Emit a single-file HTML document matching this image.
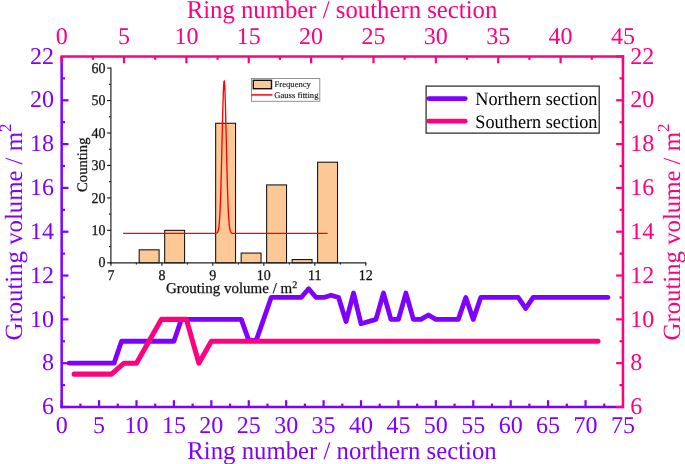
<!DOCTYPE html>
<html><head><meta charset="utf-8"><style>
html,body{margin:0;padding:0;background:#fff;width:685px;height:464px;overflow:hidden}
svg{display:block;will-change:transform}
text{font-family:"Liberation Serif",serif;text-rendering:geometricPrecision}
.tl{font-size:24px}
.tt{font-size:24.75px}
.it{font-size:14px;fill:#111;stroke:#111;stroke-width:0.25px}
.ititle{font-size:15px;fill:#111;stroke:#111;stroke-width:0.25px}
.ileg{font-size:8.6px;fill:#111;stroke:#111;stroke-width:0.12px}
.lg{font-size:18.25px;fill:#000}
</style></head><body>
<svg width="685" height="464" viewBox="0 0 685 464">
<rect x="139.19" y="249.82" width="19.90" height="12.98" fill="#FBC896" stroke="#111" stroke-width="1.05"/>
<rect x="164.68" y="230.35" width="19.90" height="32.45" fill="#FBC896" stroke="#111" stroke-width="1.05"/>
<rect x="215.66" y="123.27" width="19.90" height="139.53" fill="#FBC896" stroke="#111" stroke-width="1.05"/>
<rect x="241.15" y="253.06" width="19.90" height="9.74" fill="#FBC896" stroke="#111" stroke-width="1.05"/>
<rect x="266.64" y="184.92" width="19.90" height="77.88" fill="#FBC896" stroke="#111" stroke-width="1.05"/>
<rect x="292.13" y="259.56" width="19.90" height="3.25" fill="#FBC896" stroke="#111" stroke-width="1.05"/>
<rect x="317.62" y="162.21" width="19.90" height="100.59" fill="#FBC896" stroke="#111" stroke-width="1.05"/>
<polyline points="123.14,233.40 123.48,233.40 123.82,233.40 124.16,233.40 124.50,233.40 124.84,233.40 125.18,233.40 125.52,233.40 125.86,233.40 126.20,233.40 126.54,233.40 126.88,233.40 127.22,233.40 127.56,233.40 127.91,233.40 128.25,233.40 128.59,233.40 128.93,233.40 129.27,233.40 129.61,233.40 129.95,233.40 130.29,233.40 130.63,233.40 130.97,233.40 131.31,233.40 131.65,233.40 131.99,233.40 132.33,233.40 132.68,233.40 133.02,233.40 133.36,233.40 133.70,233.40 134.04,233.40 134.38,233.40 134.72,233.40 135.06,233.40 135.40,233.40 135.74,233.40 136.08,233.40 136.42,233.40 136.76,233.40 137.10,233.40 137.45,233.40 137.79,233.40 138.13,233.40 138.47,233.40 138.81,233.40 139.15,233.40 139.49,233.40 139.83,233.40 140.17,233.40 140.51,233.40 140.85,233.40 141.19,233.40 141.53,233.40 141.87,233.40 142.22,233.40 142.56,233.40 142.90,233.40 143.24,233.40 143.58,233.40 143.92,233.40 144.26,233.40 144.60,233.40 144.94,233.40 145.28,233.40 145.62,233.40 145.96,233.40 146.30,233.40 146.64,233.40 146.99,233.40 147.33,233.40 147.67,233.40 148.01,233.40 148.35,233.40 148.69,233.40 149.03,233.40 149.37,233.40 149.71,233.40 150.05,233.40 150.39,233.40 150.73,233.40 151.07,233.40 151.41,233.40 151.76,233.40 152.10,233.40 152.44,233.40 152.78,233.40 153.12,233.40 153.46,233.40 153.80,233.40 154.14,233.40 154.48,233.40 154.82,233.40 155.16,233.40 155.50,233.40 155.84,233.40 156.18,233.40 156.53,233.40 156.87,233.40 157.21,233.40 157.55,233.40 157.89,233.40 158.23,233.40 158.57,233.40 158.91,233.40 159.25,233.40 159.59,233.40 159.93,233.40 160.27,233.40 160.61,233.40 160.95,233.40 161.30,233.40 161.64,233.40 161.98,233.40 162.32,233.40 162.66,233.40 163.00,233.40 163.34,233.40 163.68,233.40 164.02,233.40 164.36,233.40 164.70,233.40 165.04,233.40 165.38,233.40 165.72,233.40 166.07,233.40 166.41,233.40 166.75,233.40 167.09,233.40 167.43,233.40 167.77,233.40 168.11,233.40 168.45,233.40 168.79,233.40 169.13,233.40 169.47,233.40 169.81,233.40 170.15,233.40 170.49,233.40 170.84,233.40 171.18,233.40 171.52,233.40 171.86,233.40 172.20,233.40 172.54,233.40 172.88,233.40 173.22,233.40 173.56,233.40 173.90,233.40 174.24,233.40 174.58,233.40 174.92,233.40 175.26,233.40 175.61,233.40 175.95,233.40 176.29,233.40 176.63,233.40 176.97,233.40 177.31,233.40 177.65,233.40 177.99,233.40 178.33,233.40 178.67,233.40 179.01,233.40 179.35,233.40 179.69,233.40 180.03,233.40 180.38,233.40 180.72,233.40 181.06,233.40 181.40,233.40 181.74,233.40 182.08,233.40 182.42,233.40 182.76,233.40 183.10,233.40 183.44,233.40 183.78,233.40 184.12,233.40 184.46,233.40 184.80,233.40 185.15,233.40 185.49,233.40 185.83,233.40 186.17,233.40 186.51,233.40 186.85,233.40 187.19,233.40 187.53,233.40 187.87,233.40 188.21,233.40 188.55,233.40 188.89,233.40 189.23,233.40 189.57,233.40 189.92,233.40 190.26,233.40 190.60,233.40 190.94,233.40 191.28,233.40 191.62,233.40 191.96,233.40 192.30,233.40 192.64,233.40 192.98,233.40 193.32,233.40 193.66,233.40 194.00,233.40 194.34,233.40 194.69,233.40 195.03,233.40 195.37,233.40 195.71,233.40 196.05,233.40 196.39,233.40 196.73,233.40 197.07,233.40 197.41,233.40 197.75,233.40 198.09,233.40 198.43,233.40 198.77,233.40 199.11,233.40 199.46,233.40 199.80,233.40 200.14,233.40 200.48,233.40 200.82,233.40 201.16,233.40 201.50,233.40 201.84,233.40 202.18,233.40 202.52,233.40 202.86,233.40 203.20,233.40 203.54,233.40 203.88,233.40 204.23,233.40 204.57,233.40 204.91,233.40 205.25,233.40 205.59,233.40 205.93,233.40 206.27,233.40 206.61,233.40 206.95,233.40 207.29,233.40 207.63,233.40 207.97,233.40 208.31,233.40 208.65,233.40 209.00,233.40 209.34,233.40 209.68,233.40 210.02,233.40 210.36,233.40 210.70,233.40 211.04,233.40 211.38,233.40 211.72,233.40 212.06,233.40 212.40,233.40 212.74,233.40 213.08,233.40 213.43,233.40 213.77,233.40 214.11,233.40 214.45,233.40 214.79,233.39 215.13,233.38 215.47,233.37 215.81,233.34 216.15,233.29 216.49,233.19 216.83,233.03 217.17,232.76 217.51,232.33 217.85,231.65 218.20,230.60 218.54,229.04 218.88,226.79 219.22,223.64 219.56,219.34 219.90,213.67 220.24,206.43 220.58,197.47 220.92,186.76 221.26,174.41 221.60,160.70 221.94,146.09 222.28,131.24 222.62,116.91 222.97,103.98 223.31,93.30 223.65,85.61 223.99,81.50 224.33,81.27 224.67,84.94 225.01,92.23 225.35,102.60 225.69,115.31 226.03,129.51 226.37,144.35 226.71,159.02 227.05,172.86 227.39,185.39 227.74,196.30 228.08,205.47 228.42,212.91 228.76,218.75 229.10,223.20 229.44,226.47 229.78,228.82 230.12,230.45 230.46,231.55 230.80,232.27 231.14,232.72 231.48,233.01 231.82,233.18 232.16,233.28 232.51,233.33 232.85,233.37 233.19,233.38 233.53,233.39 233.87,233.40 234.21,233.40 234.55,233.40 234.89,233.40 235.23,233.40 235.57,233.40 235.91,233.40 236.25,233.40 236.59,233.40 236.93,233.40 237.28,233.40 237.62,233.40 237.96,233.40 238.30,233.40 238.64,233.40 238.98,233.40 239.32,233.40 239.66,233.40 240.00,233.40 240.34,233.40 240.68,233.40 241.02,233.40 241.36,233.40 241.70,233.40 242.05,233.40 242.39,233.40 242.73,233.40 243.07,233.40 243.41,233.40 243.75,233.40 244.09,233.40 244.43,233.40 244.77,233.40 245.11,233.40 245.45,233.40 245.79,233.40 246.13,233.40 246.47,233.40 246.82,233.40 247.16,233.40 247.50,233.40 247.84,233.40 248.18,233.40 248.52,233.40 248.86,233.40 249.20,233.40 249.54,233.40 249.88,233.40 250.22,233.40 250.56,233.40 250.90,233.40 251.24,233.40 251.59,233.40 251.93,233.40 252.27,233.40 252.61,233.40 252.95,233.40 253.29,233.40 253.63,233.40 253.97,233.40 254.31,233.40 254.65,233.40 254.99,233.40 255.33,233.40 255.67,233.40 256.01,233.40 256.36,233.40 256.70,233.40 257.04,233.40 257.38,233.40 257.72,233.40 258.06,233.40 258.40,233.40 258.74,233.40 259.08,233.40 259.42,233.40 259.76,233.40 260.10,233.40 260.44,233.40 260.78,233.40 261.13,233.40 261.47,233.40 261.81,233.40 262.15,233.40 262.49,233.40 262.83,233.40 263.17,233.40 263.51,233.40 263.85,233.40 264.19,233.40 264.53,233.40 264.87,233.40 265.21,233.40 265.55,233.40 265.90,233.40 266.24,233.40 266.58,233.40 266.92,233.40 267.26,233.40 267.60,233.40 267.94,233.40 268.28,233.40 268.62,233.40 268.96,233.40 269.30,233.40 269.64,233.40 269.98,233.40 270.32,233.40 270.67,233.40 271.01,233.40 271.35,233.40 271.69,233.40 272.03,233.40 272.37,233.40 272.71,233.40 273.05,233.40 273.39,233.40 273.73,233.40 274.07,233.40 274.41,233.40 274.75,233.40 275.09,233.40 275.44,233.40 275.78,233.40 276.12,233.40 276.46,233.40 276.80,233.40 277.14,233.40 277.48,233.40 277.82,233.40 278.16,233.40 278.50,233.40 278.84,233.40 279.18,233.40 279.52,233.40 279.86,233.40 280.21,233.40 280.55,233.40 280.89,233.40 281.23,233.40 281.57,233.40 281.91,233.40 282.25,233.40 282.59,233.40 282.93,233.40 283.27,233.40 283.61,233.40 283.95,233.40 284.29,233.40 284.63,233.40 284.98,233.40 285.32,233.40 285.66,233.40 286.00,233.40 286.34,233.40 286.68,233.40 287.02,233.40 287.36,233.40 287.70,233.40 288.04,233.40 288.38,233.40 288.72,233.40 289.06,233.40 289.40,233.40 289.75,233.40 290.09,233.40 290.43,233.40 290.77,233.40 291.11,233.40 291.45,233.40 291.79,233.40 292.13,233.40 292.47,233.40 292.81,233.40 293.15,233.40 293.49,233.40 293.83,233.40 294.17,233.40 294.52,233.40 294.86,233.40 295.20,233.40 295.54,233.40 295.88,233.40 296.22,233.40 296.56,233.40 296.90,233.40 297.24,233.40 297.58,233.40 297.92,233.40 298.26,233.40 298.60,233.40 298.94,233.40 299.29,233.40 299.63,233.40 299.97,233.40 300.31,233.40 300.65,233.40 300.99,233.40 301.33,233.40 301.67,233.40 302.01,233.40 302.35,233.40 302.69,233.40 303.03,233.40 303.37,233.40 303.71,233.40 304.06,233.40 304.40,233.40 304.74,233.40 305.08,233.40 305.42,233.40 305.76,233.40 306.10,233.40 306.44,233.40 306.78,233.40 307.12,233.40 307.46,233.40 307.80,233.40 308.14,233.40 308.48,233.40 308.83,233.40 309.17,233.40 309.51,233.40 309.85,233.40 310.19,233.40 310.53,233.40 310.87,233.40 311.21,233.40 311.55,233.40 311.89,233.40 312.23,233.40 312.57,233.40 312.91,233.40 313.25,233.40 313.60,233.40 313.94,233.40 314.28,233.40 314.62,233.40 314.96,233.40 315.30,233.40 315.64,233.40 315.98,233.40 316.32,233.40 316.66,233.40 317.00,233.40 317.34,233.40 317.68,233.40 318.02,233.40 318.37,233.40 318.71,233.40 319.05,233.40 319.39,233.40 319.73,233.40 320.07,233.40 320.41,233.40 320.75,233.40 321.09,233.40 321.43,233.40 321.77,233.40 322.11,233.40 322.45,233.40 322.79,233.40 323.14,233.40 323.48,233.40 323.82,233.40 324.16,233.40 324.50,233.40 324.84,233.40 325.18,233.40 325.52,233.40 325.86,233.40 326.20,233.40 326.54,233.40 326.88,233.40 327.22,233.40 327.57,233.40" fill="none" stroke="#FF0000" stroke-width="1.35"/>
<line x1="110.90" y1="67.60" x2="110.90" y2="263.40" stroke="#222" stroke-width="1.2"/>
<line x1="110.30" y1="262.80" x2="366.40" y2="262.80" stroke="#222" stroke-width="1.2"/>
<line x1="107.10" y1="262.80" x2="110.90" y2="262.80" stroke="#111" stroke-width="1.1"/>
<line x1="108.90" y1="246.58" x2="110.90" y2="246.58" stroke="#111" stroke-width="1.1"/>
<line x1="107.10" y1="230.35" x2="110.90" y2="230.35" stroke="#111" stroke-width="1.1"/>
<line x1="108.90" y1="214.12" x2="110.90" y2="214.12" stroke="#111" stroke-width="1.1"/>
<line x1="107.10" y1="197.90" x2="110.90" y2="197.90" stroke="#111" stroke-width="1.1"/>
<line x1="108.90" y1="181.68" x2="110.90" y2="181.68" stroke="#111" stroke-width="1.1"/>
<line x1="107.10" y1="165.45" x2="110.90" y2="165.45" stroke="#111" stroke-width="1.1"/>
<line x1="108.90" y1="149.23" x2="110.90" y2="149.23" stroke="#111" stroke-width="1.1"/>
<line x1="107.10" y1="133.00" x2="110.90" y2="133.00" stroke="#111" stroke-width="1.1"/>
<line x1="108.90" y1="116.78" x2="110.90" y2="116.78" stroke="#111" stroke-width="1.1"/>
<line x1="107.10" y1="100.55" x2="110.90" y2="100.55" stroke="#111" stroke-width="1.1"/>
<line x1="108.90" y1="84.33" x2="110.90" y2="84.33" stroke="#111" stroke-width="1.1"/>
<line x1="107.10" y1="68.10" x2="110.90" y2="68.10" stroke="#111" stroke-width="1.1"/>
<line x1="110.90" y1="262.80" x2="110.90" y2="265.80" stroke="#111" stroke-width="1.1"/>
<line x1="136.39" y1="262.80" x2="136.39" y2="264.60" stroke="#111" stroke-width="1.1"/>
<line x1="161.88" y1="262.80" x2="161.88" y2="265.80" stroke="#111" stroke-width="1.1"/>
<line x1="187.37" y1="262.80" x2="187.37" y2="264.60" stroke="#111" stroke-width="1.1"/>
<line x1="212.86" y1="262.80" x2="212.86" y2="265.80" stroke="#111" stroke-width="1.1"/>
<line x1="238.35" y1="262.80" x2="238.35" y2="264.60" stroke="#111" stroke-width="1.1"/>
<line x1="263.84" y1="262.80" x2="263.84" y2="265.80" stroke="#111" stroke-width="1.1"/>
<line x1="289.33" y1="262.80" x2="289.33" y2="264.60" stroke="#111" stroke-width="1.1"/>
<line x1="314.82" y1="262.80" x2="314.82" y2="265.80" stroke="#111" stroke-width="1.1"/>
<line x1="340.31" y1="262.80" x2="340.31" y2="264.60" stroke="#111" stroke-width="1.1"/>
<line x1="365.80" y1="262.80" x2="365.80" y2="265.80" stroke="#111" stroke-width="1.1"/>
<text transform="translate(105.40,267.40) scale(1,1.06)" text-anchor="end" class="it">0</text>
<text transform="translate(105.40,234.95) scale(1,1.06)" text-anchor="end" class="it">10</text>
<text transform="translate(105.40,202.50) scale(1,1.06)" text-anchor="end" class="it">20</text>
<text transform="translate(105.40,170.05) scale(1,1.06)" text-anchor="end" class="it">30</text>
<text transform="translate(105.40,137.60) scale(1,1.06)" text-anchor="end" class="it">40</text>
<text transform="translate(105.40,105.15) scale(1,1.06)" text-anchor="end" class="it">50</text>
<text transform="translate(105.40,72.70) scale(1,1.06)" text-anchor="end" class="it">60</text>
<text transform="translate(110.90,279.80) scale(1,1.06)" text-anchor="middle" class="it">7</text>
<text transform="translate(161.88,279.80) scale(1,1.06)" text-anchor="middle" class="it">8</text>
<text transform="translate(212.86,279.80) scale(1,1.06)" text-anchor="middle" class="it">9</text>
<text transform="translate(263.84,279.80) scale(1,1.06)" text-anchor="middle" class="it">10</text>
<text transform="translate(314.82,279.80) scale(1,1.06)" text-anchor="middle" class="it">11</text>
<text transform="translate(365.80,279.80) scale(1,1.06)" text-anchor="middle" class="it">12</text>
<text x="166" y="293.4" class="ititle">Grouting volume / m<tspan dy="-5.5" font-size="10">2</tspan></text>
<text transform="translate(86.5,191.9) rotate(-90)" class="ititle" style="font-size:14.6px">Counting</text>
<rect x="251.5" y="78.5" width="68.3" height="22.8" fill="#fff" stroke="#888" stroke-width="0.9"/>
<rect x="253.3" y="80.3" width="18.2" height="8.4" fill="#FBC896" stroke="#111" stroke-width="1.4"/>
<line x1="251.5" y1="94.9" x2="272.5" y2="94.9" stroke="#FF0000" stroke-width="1.5"/>
<text x="274.6" y="87.1" class="ileg">Frequency</text>
<text x="274.3" y="97.9" class="ileg">Gauss fitting</text>
<polyline points="69.13,363.18 114.04,363.18 121.52,341.27 173.91,341.27 181.39,319.36 241.27,319.36 248.75,340.40 256.23,340.40 271.20,297.45 301.14,297.45 308.62,288.69 316.11,297.45 323.59,297.45 331.07,295.26 338.56,297.45 346.04,321.55 353.53,293.07 361.01,323.74 375.98,319.36 383.46,293.07 390.95,319.36 398.43,319.36 405.91,293.07 413.40,319.36 420.88,319.36 428.37,314.98 435.85,319.36 458.30,319.36 465.79,297.45 473.27,319.36 480.75,297.45 518.17,297.45 525.66,308.41 533.14,297.45 607.98,297.45" fill="none" stroke="#8000FF" stroke-width="4.8" stroke-linejoin="round" stroke-linecap="round"/>
<polyline points="74.12,374.14 111.54,374.14 124.02,363.18 136.49,363.18 161.44,319.36 186.38,319.36 198.86,363.18 211.33,341.27 598.00,341.27" fill="none" stroke="#FF0080" stroke-width="5.05" stroke-linejoin="round" stroke-linecap="round"/>
<line x1="61.65" y1="407.00" x2="68.45" y2="407.00" stroke="#8000FF" stroke-width="2.2"/>
<line x1="61.65" y1="385.09" x2="65.05" y2="385.09" stroke="#8000FF" stroke-width="2.2"/>
<line x1="61.65" y1="363.18" x2="68.45" y2="363.18" stroke="#8000FF" stroke-width="2.2"/>
<line x1="61.65" y1="341.27" x2="65.05" y2="341.27" stroke="#8000FF" stroke-width="2.2"/>
<line x1="61.65" y1="319.36" x2="68.45" y2="319.36" stroke="#8000FF" stroke-width="2.2"/>
<line x1="61.65" y1="297.45" x2="65.05" y2="297.45" stroke="#8000FF" stroke-width="2.2"/>
<line x1="61.65" y1="275.54" x2="68.45" y2="275.54" stroke="#8000FF" stroke-width="2.2"/>
<line x1="61.65" y1="253.63" x2="65.05" y2="253.63" stroke="#8000FF" stroke-width="2.2"/>
<line x1="61.65" y1="231.72" x2="68.45" y2="231.72" stroke="#8000FF" stroke-width="2.2"/>
<line x1="61.65" y1="209.82" x2="65.05" y2="209.82" stroke="#8000FF" stroke-width="2.2"/>
<line x1="61.65" y1="187.91" x2="68.45" y2="187.91" stroke="#8000FF" stroke-width="2.2"/>
<line x1="61.65" y1="166.00" x2="65.05" y2="166.00" stroke="#8000FF" stroke-width="2.2"/>
<line x1="61.65" y1="144.09" x2="68.45" y2="144.09" stroke="#8000FF" stroke-width="2.2"/>
<line x1="61.65" y1="122.18" x2="65.05" y2="122.18" stroke="#8000FF" stroke-width="2.2"/>
<line x1="61.65" y1="100.27" x2="68.45" y2="100.27" stroke="#8000FF" stroke-width="2.2"/>
<line x1="61.65" y1="78.36" x2="65.05" y2="78.36" stroke="#8000FF" stroke-width="2.2"/>
<line x1="61.65" y1="407.00" x2="61.65" y2="400.20" stroke="#8000FF" stroke-width="2.2"/>
<line x1="80.36" y1="407.00" x2="80.36" y2="403.60" stroke="#8000FF" stroke-width="2.2"/>
<line x1="99.07" y1="407.00" x2="99.07" y2="400.20" stroke="#8000FF" stroke-width="2.2"/>
<line x1="117.78" y1="407.00" x2="117.78" y2="403.60" stroke="#8000FF" stroke-width="2.2"/>
<line x1="136.49" y1="407.00" x2="136.49" y2="400.20" stroke="#8000FF" stroke-width="2.2"/>
<line x1="155.20" y1="407.00" x2="155.20" y2="403.60" stroke="#8000FF" stroke-width="2.2"/>
<line x1="173.91" y1="407.00" x2="173.91" y2="400.20" stroke="#8000FF" stroke-width="2.2"/>
<line x1="192.62" y1="407.00" x2="192.62" y2="403.60" stroke="#8000FF" stroke-width="2.2"/>
<line x1="211.33" y1="407.00" x2="211.33" y2="400.20" stroke="#8000FF" stroke-width="2.2"/>
<line x1="230.04" y1="407.00" x2="230.04" y2="403.60" stroke="#8000FF" stroke-width="2.2"/>
<line x1="248.75" y1="407.00" x2="248.75" y2="400.20" stroke="#8000FF" stroke-width="2.2"/>
<line x1="267.46" y1="407.00" x2="267.46" y2="403.60" stroke="#8000FF" stroke-width="2.2"/>
<line x1="286.17" y1="407.00" x2="286.17" y2="400.20" stroke="#8000FF" stroke-width="2.2"/>
<line x1="304.88" y1="407.00" x2="304.88" y2="403.60" stroke="#8000FF" stroke-width="2.2"/>
<line x1="323.59" y1="407.00" x2="323.59" y2="400.20" stroke="#8000FF" stroke-width="2.2"/>
<line x1="342.30" y1="407.00" x2="342.30" y2="403.60" stroke="#8000FF" stroke-width="2.2"/>
<line x1="361.01" y1="407.00" x2="361.01" y2="400.20" stroke="#8000FF" stroke-width="2.2"/>
<line x1="379.72" y1="407.00" x2="379.72" y2="403.60" stroke="#8000FF" stroke-width="2.2"/>
<line x1="398.43" y1="407.00" x2="398.43" y2="400.20" stroke="#8000FF" stroke-width="2.2"/>
<line x1="417.14" y1="407.00" x2="417.14" y2="403.60" stroke="#8000FF" stroke-width="2.2"/>
<line x1="435.85" y1="407.00" x2="435.85" y2="400.20" stroke="#8000FF" stroke-width="2.2"/>
<line x1="454.56" y1="407.00" x2="454.56" y2="403.60" stroke="#8000FF" stroke-width="2.2"/>
<line x1="473.27" y1="407.00" x2="473.27" y2="400.20" stroke="#8000FF" stroke-width="2.2"/>
<line x1="491.98" y1="407.00" x2="491.98" y2="403.60" stroke="#8000FF" stroke-width="2.2"/>
<line x1="510.69" y1="407.00" x2="510.69" y2="400.20" stroke="#8000FF" stroke-width="2.2"/>
<line x1="529.40" y1="407.00" x2="529.40" y2="403.60" stroke="#8000FF" stroke-width="2.2"/>
<line x1="548.11" y1="407.00" x2="548.11" y2="400.20" stroke="#8000FF" stroke-width="2.2"/>
<line x1="566.82" y1="407.00" x2="566.82" y2="403.60" stroke="#8000FF" stroke-width="2.2"/>
<line x1="585.53" y1="407.00" x2="585.53" y2="400.20" stroke="#8000FF" stroke-width="2.2"/>
<line x1="604.24" y1="407.00" x2="604.24" y2="403.60" stroke="#8000FF" stroke-width="2.2"/>
<line x1="61.65" y1="56.45" x2="61.65" y2="408.25" stroke="#8000FF" stroke-width="2.5"/>
<line x1="60.40" y1="407.00" x2="622.95" y2="407.00" stroke="#8000FF" stroke-width="2.5"/>
<line x1="622.95" y1="407.00" x2="616.15" y2="407.00" stroke="#FF0080" stroke-width="2.2"/>
<line x1="622.95" y1="385.09" x2="619.55" y2="385.09" stroke="#FF0080" stroke-width="2.2"/>
<line x1="622.95" y1="363.18" x2="616.15" y2="363.18" stroke="#FF0080" stroke-width="2.2"/>
<line x1="622.95" y1="341.27" x2="619.55" y2="341.27" stroke="#FF0080" stroke-width="2.2"/>
<line x1="622.95" y1="319.36" x2="616.15" y2="319.36" stroke="#FF0080" stroke-width="2.2"/>
<line x1="622.95" y1="297.45" x2="619.55" y2="297.45" stroke="#FF0080" stroke-width="2.2"/>
<line x1="622.95" y1="275.54" x2="616.15" y2="275.54" stroke="#FF0080" stroke-width="2.2"/>
<line x1="622.95" y1="253.63" x2="619.55" y2="253.63" stroke="#FF0080" stroke-width="2.2"/>
<line x1="622.95" y1="231.72" x2="616.15" y2="231.72" stroke="#FF0080" stroke-width="2.2"/>
<line x1="622.95" y1="209.82" x2="619.55" y2="209.82" stroke="#FF0080" stroke-width="2.2"/>
<line x1="622.95" y1="187.91" x2="616.15" y2="187.91" stroke="#FF0080" stroke-width="2.2"/>
<line x1="622.95" y1="166.00" x2="619.55" y2="166.00" stroke="#FF0080" stroke-width="2.2"/>
<line x1="622.95" y1="144.09" x2="616.15" y2="144.09" stroke="#FF0080" stroke-width="2.2"/>
<line x1="622.95" y1="122.18" x2="619.55" y2="122.18" stroke="#FF0080" stroke-width="2.2"/>
<line x1="622.95" y1="100.27" x2="616.15" y2="100.27" stroke="#FF0080" stroke-width="2.2"/>
<line x1="622.95" y1="78.36" x2="619.55" y2="78.36" stroke="#FF0080" stroke-width="2.2"/>
<line x1="622.95" y1="56.45" x2="616.15" y2="56.45" stroke="#FF0080" stroke-width="2.2"/>
<line x1="61.65" y1="56.45" x2="61.65" y2="63.25" stroke="#FF0080" stroke-width="2.2"/>
<line x1="92.83" y1="56.45" x2="92.83" y2="59.85" stroke="#FF0080" stroke-width="2.2"/>
<line x1="124.02" y1="56.45" x2="124.02" y2="63.25" stroke="#FF0080" stroke-width="2.2"/>
<line x1="155.20" y1="56.45" x2="155.20" y2="59.85" stroke="#FF0080" stroke-width="2.2"/>
<line x1="186.38" y1="56.45" x2="186.38" y2="63.25" stroke="#FF0080" stroke-width="2.2"/>
<line x1="217.57" y1="56.45" x2="217.57" y2="59.85" stroke="#FF0080" stroke-width="2.2"/>
<line x1="248.75" y1="56.45" x2="248.75" y2="63.25" stroke="#FF0080" stroke-width="2.2"/>
<line x1="279.93" y1="56.45" x2="279.93" y2="59.85" stroke="#FF0080" stroke-width="2.2"/>
<line x1="311.12" y1="56.45" x2="311.12" y2="63.25" stroke="#FF0080" stroke-width="2.2"/>
<line x1="342.30" y1="56.45" x2="342.30" y2="59.85" stroke="#FF0080" stroke-width="2.2"/>
<line x1="373.48" y1="56.45" x2="373.48" y2="63.25" stroke="#FF0080" stroke-width="2.2"/>
<line x1="404.67" y1="56.45" x2="404.67" y2="59.85" stroke="#FF0080" stroke-width="2.2"/>
<line x1="435.85" y1="56.45" x2="435.85" y2="63.25" stroke="#FF0080" stroke-width="2.2"/>
<line x1="467.03" y1="56.45" x2="467.03" y2="59.85" stroke="#FF0080" stroke-width="2.2"/>
<line x1="498.22" y1="56.45" x2="498.22" y2="63.25" stroke="#FF0080" stroke-width="2.2"/>
<line x1="529.40" y1="56.45" x2="529.40" y2="59.85" stroke="#FF0080" stroke-width="2.2"/>
<line x1="560.58" y1="56.45" x2="560.58" y2="63.25" stroke="#FF0080" stroke-width="2.2"/>
<line x1="591.77" y1="56.45" x2="591.77" y2="59.85" stroke="#FF0080" stroke-width="2.2"/>
<line x1="622.95" y1="56.45" x2="622.95" y2="63.25" stroke="#FF0080" stroke-width="2.2"/>
<line x1="622.95" y1="55.20" x2="622.95" y2="408.25" stroke="#FF0080" stroke-width="2.5"/>
<line x1="60.40" y1="56.45" x2="624.20" y2="56.45" stroke="#FF0080" stroke-width="2.5"/>
<text x="53.9" y="414.20" text-anchor="end" class="tl" fill="#8000FF">6</text>
<text x="630.3" y="414.20" class="tl" fill="#FF0080">6</text>
<text x="53.9" y="370.38" text-anchor="end" class="tl" fill="#8000FF">8</text>
<text x="630.3" y="370.38" class="tl" fill="#FF0080">8</text>
<text x="53.9" y="326.56" text-anchor="end" class="tl" fill="#8000FF">10</text>
<text x="630.3" y="326.56" class="tl" fill="#FF0080">10</text>
<text x="53.9" y="282.74" text-anchor="end" class="tl" fill="#8000FF">12</text>
<text x="630.3" y="282.74" class="tl" fill="#FF0080">12</text>
<text x="53.9" y="238.92" text-anchor="end" class="tl" fill="#8000FF">14</text>
<text x="630.3" y="238.92" class="tl" fill="#FF0080">14</text>
<text x="53.9" y="195.11" text-anchor="end" class="tl" fill="#8000FF">16</text>
<text x="630.3" y="195.11" class="tl" fill="#FF0080">16</text>
<text x="53.9" y="151.29" text-anchor="end" class="tl" fill="#8000FF">18</text>
<text x="630.3" y="151.29" class="tl" fill="#FF0080">18</text>
<text x="53.9" y="107.47" text-anchor="end" class="tl" fill="#8000FF">20</text>
<text x="630.3" y="107.47" class="tl" fill="#FF0080">20</text>
<text x="53.9" y="63.65" text-anchor="end" class="tl" fill="#8000FF">22</text>
<text x="630.3" y="63.65" class="tl" fill="#FF0080">22</text>
<text x="61.65" y="432.6" text-anchor="middle" class="tl" fill="#8000FF">0</text>
<text x="99.07" y="432.6" text-anchor="middle" class="tl" fill="#8000FF">5</text>
<text x="136.49" y="432.6" text-anchor="middle" class="tl" fill="#8000FF">10</text>
<text x="173.91" y="432.6" text-anchor="middle" class="tl" fill="#8000FF">15</text>
<text x="211.33" y="432.6" text-anchor="middle" class="tl" fill="#8000FF">20</text>
<text x="248.75" y="432.6" text-anchor="middle" class="tl" fill="#8000FF">25</text>
<text x="286.17" y="432.6" text-anchor="middle" class="tl" fill="#8000FF">30</text>
<text x="323.59" y="432.6" text-anchor="middle" class="tl" fill="#8000FF">35</text>
<text x="361.01" y="432.6" text-anchor="middle" class="tl" fill="#8000FF">40</text>
<text x="398.43" y="432.6" text-anchor="middle" class="tl" fill="#8000FF">45</text>
<text x="435.85" y="432.6" text-anchor="middle" class="tl" fill="#8000FF">50</text>
<text x="473.27" y="432.6" text-anchor="middle" class="tl" fill="#8000FF">55</text>
<text x="510.69" y="432.6" text-anchor="middle" class="tl" fill="#8000FF">60</text>
<text x="548.11" y="432.6" text-anchor="middle" class="tl" fill="#8000FF">65</text>
<text x="585.53" y="432.6" text-anchor="middle" class="tl" fill="#8000FF">70</text>
<text x="622.95" y="432.6" text-anchor="middle" class="tl" fill="#8000FF">75</text>
<text x="61.65" y="44.4" text-anchor="middle" class="tl" fill="#FF0080">0</text>
<text x="124.02" y="44.4" text-anchor="middle" class="tl" fill="#FF0080">5</text>
<text x="186.38" y="44.4" text-anchor="middle" class="tl" fill="#FF0080">10</text>
<text x="248.75" y="44.4" text-anchor="middle" class="tl" fill="#FF0080">15</text>
<text x="311.12" y="44.4" text-anchor="middle" class="tl" fill="#FF0080">20</text>
<text x="373.48" y="44.4" text-anchor="middle" class="tl" fill="#FF0080">25</text>
<text x="435.85" y="44.4" text-anchor="middle" class="tl" fill="#FF0080">30</text>
<text x="498.22" y="44.4" text-anchor="middle" class="tl" fill="#FF0080">35</text>
<text x="560.58" y="44.4" text-anchor="middle" class="tl" fill="#FF0080">40</text>
<text x="622.95" y="44.4" text-anchor="middle" class="tl" fill="#FF0080">45</text>
<text transform="translate(342,459) scale(1,1.035)" text-anchor="middle" class="tt" fill="#8000FF">Ring number / northern section</text>
<text transform="translate(342,17.55) scale(1,1.035)" text-anchor="middle" class="tt" fill="#FF0080">Ring number / southern section</text>
<text transform="translate(22.2,232) rotate(-90)" text-anchor="middle" class="tt" fill="#8000FF">Grouting volume / m<tspan dy="-11" font-size="17">2</tspan></text>
<text transform="translate(680,232) rotate(-90)" text-anchor="middle" class="tt" fill="#FF0080">Grouting volume / m<tspan dy="-11" font-size="17">2</tspan></text>
<rect x="426.1" y="86.1" width="173.1" height="47.0" fill="#fff" stroke="#222" stroke-width="1.2"/>
<line x1="428.8" y1="98.6" x2="465.2" y2="98.6" stroke="#8000FF" stroke-width="4.8" stroke-linecap="round"/>
<line x1="428.8" y1="121.2" x2="465.2" y2="121.2" stroke="#FF0080" stroke-width="4.8" stroke-linecap="round"/>
<text transform="translate(475.3,105.2) scale(1,1.035)" class="lg">Northern section</text>
<text transform="translate(475.3,127.8) scale(1,1.035)" class="lg">Southern section</text>
</svg>
</body></html>
